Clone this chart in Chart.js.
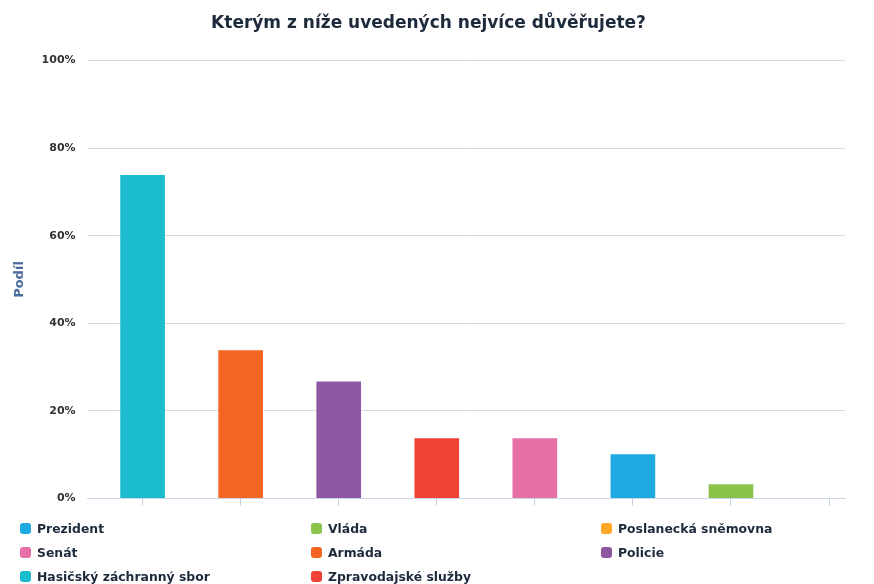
<!DOCTYPE html>
<html>
<head>
<meta charset="utf-8">
<script src="https://cdn.jsdelivr.net/npm/chart.js@4"></script>
<style>
  body { margin: 0; background: #fff; font-family: "DejaVu Sans", sans-serif; }
  #wrap { width: 874px; height: 584px; position: relative; }
  #chart { position: absolute; left: 0; top: 0; }
  #legend { position: absolute; left: 20px; top: 516px; width: 860px;
            display: grid; grid-template-columns: 291px 290px 280px; grid-auto-rows: 24px; }
  .item { display: flex; align-items: center; font-weight: 700; font-size: 12.4px; color: #1d2a3c; }
  .box { width: 11px; height: 11px; border-radius: 3px; margin-right: 6px; }
</style>
</head>
<body>
<div id="wrap">
  <canvas id="chart" width="874" height="520"></canvas>
  <div id="legend"></div>
</div>
<script>
// legend order = series order
var series = ['Prezident', 'Vláda', 'Poslanecká sněmovna', 'Senát', 'Armáda', 'Policie', 'Hasičský záchranný sbor', 'Zpravodajské služby'];
var values = [10.3, 3.4, 0, 13.9, 34.0, 26.9, 74.0, 13.9];
// where each bar sits on the x axis (sorted by size)
var slots = [5, 6, 7, 4, 1, 2, 0, 3];
var colors = ['#1fa9e1', '#8bc34a', '#ffa726', '#e66fa8', '#f26522', '#8e57a1', '#1bbccd', '#ef4136'];
var yTicks = [0, 20, 40, 60, 80, 100];

var datasets = [];
for (var i in series) {
  datasets.push({
    label: series[i],
    data: [{x: slots[i], y: values[i]}],
    backgroundColor: colors[i],
    borderColor: 'rgba(255,255,255,0.5)',
    borderWidth: 1,
    barThickness: 46,
    grouped: false
  });
}

var ctx = document.getElementById('chart');
var myChart = new Chart(ctx, {
  type: 'bar',
  data: { datasets: datasets },
  options: {
    responsive: false,
    animation: false,
    layout: { padding: { left: 12, right: 29, top: 0, bottom: 0 } },
    plugins: {
      legend: { display: false },
      tooltip: { enabled: false },
      title: {
        display: true,
        text: 'Kterým z níže uvedených nejvíce důvěřujete?',
        color: '#1d2a3c',
        font: { family: 'DejaVu Sans', size: 17, weight: 'bold' },
        padding: { top: 13, bottom: 27 }
      }
    },
    scales: {
      x: {
        type: 'linear',
        offset: false,
        min: -0.561,
        max: 7.163,
        afterBuildTicks: function (axis) {
          axis.ticks = [0, 1, 2, 3, 4, 5, 6, 7].map(function (v) { return {value: v}; });
        },
        ticks: { callback: function () { return ''; }, padding: 0 },
        grid: { drawOnChartArea: false, drawTicks: true, tickLength: 7, color: '#c3cfe3', offset: false },
        border: { color: '#ccd6eb', width: 1 }
      },
      y: {
        min: 0,
        max: 100,
        afterBuildTicks: function (axis) {
          axis.ticks = yTicks.map(function (v) { return {value: v}; });
        },
        ticks: {
          callback: function (v) { return v + '%'; },
          color: '#333333',
          font: { family: 'DejaVu Sans', size: 11, weight: 'bold' },
          padding: 12
        },
        grid: { color: '#d9d9d9', drawTicks: false },
        border: { display: false },
        title: {
          display: true,
          text: 'Podíl',
          color: '#4a6b9b',
          font: { family: 'DejaVu Sans', size: 13, weight: 'bold' },
          padding: { top: 0, bottom: 2 }
        }
      }
    }
  }
});

var legend = document.getElementById('legend');
myChart.data.datasets.forEach(function (ds) {
  var el = document.createElement('div');
  el.className = 'item';
  el.innerHTML = '<span class="box" style="background:' + ds.backgroundColor + '"></span>' + ds.label;
  legend.appendChild(el);
});
</script>
</body>
</html>
